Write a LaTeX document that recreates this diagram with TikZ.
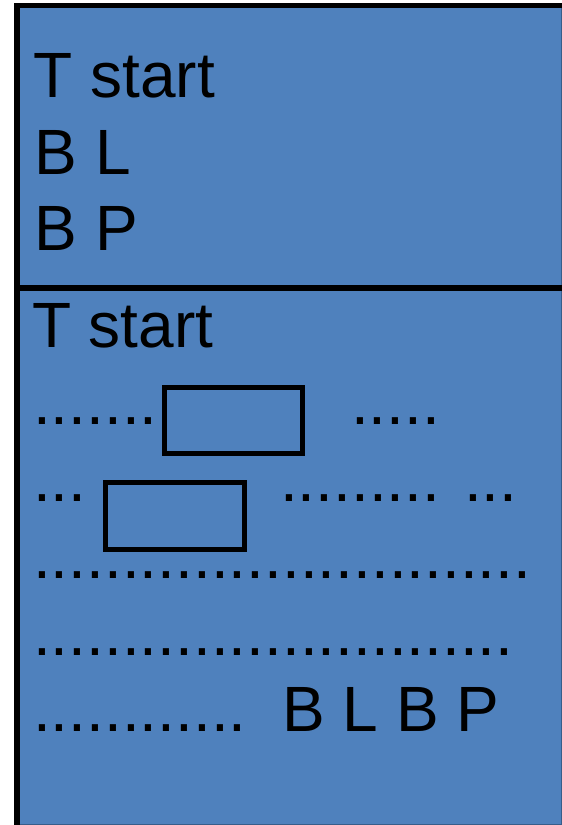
\documentclass[tikz,border=0pt]{standalone}
\usepackage{fontspec}
\setmainfont{Liberation Sans}
\definecolor{panelblue}{RGB}{79,129,189}
\definecolor{edgeblue}{RGB}{56,93,138}
\begin{document}
\begin{tikzpicture}[x=1pt,y=-1pt,
  txt/.style={anchor=base west,inner sep=0pt,outer sep=0pt,font=\fontsize{64}{64}\selectfont},
  slot/.style={draw=black,line width=5pt,inner sep=0pt,minimum width=#1,minimum height=66.5pt}]
\useasboundingbox (0,0) rectangle (562,825);
% panel
\fill[panelblue,draw=edgeblue,line width=1pt] (17,5.5) rectangle (561.5,824.5);
\draw[black,line width=4.7pt] (14,5.7) -- (561.5,5.7);
\draw[black,line width=6pt] (17,3.3) -- (17,825);
\draw[black,line width=5.5pt] (17,288) -- (561.5,288);
% top section
\node[txt] (t1) at (33.5,97) {T start};
\node[txt] (bl1) at (34.6,174) {B L};
\node[txt] (bp1) at (34.6,250) {B P};
% bottom section
\node[txt] (t2) at (32,347) {T start};
\node[txt] (r1a) at (33.2,424.8) {.......};
\node[slot=138.5pt] (box1) at (233.25,420.25) {};
\node[txt] (r1b) at (351.2,424.8) {.....};
\node[txt] (r2a) at (33.2,501.8) {...};
\node[slot=139pt] (box2) at (174.7,516.2) {};
\node[txt] (r2b) at (280.2,501.8) {......... ...};
\node[txt] (r3) at (33.2,578.8) {............................};
\node[txt] (r4) at (33.2,655.8) {...........................};
\node[txt] (r5) at (33.2,731.8) {............\ \ B L B P};
\end{tikzpicture}
\end{document}
